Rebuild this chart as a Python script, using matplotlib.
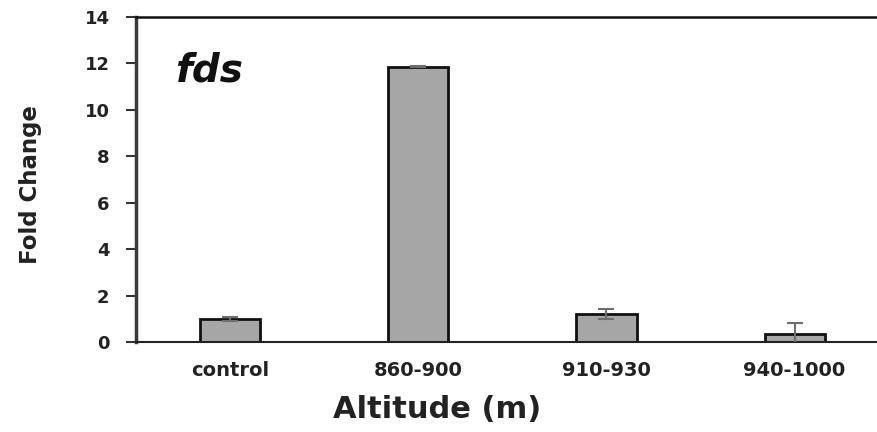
import matplotlib
matplotlib.use("Agg")
import matplotlib.pyplot as plt
import numpy as np

categories = ["control", "860-900", "910-930", "940-1000"]
fold_change = [1.0, 11.85, 1.2, 0.33]
errors = [0.08, 0.03, 0.2, 0.47]
y_ticks = [0, 2, 4, 6, 8, 10, 12, 14]

plt.rcParams['font.family'] = ['DejaVu Sans']

fig = plt.figure(figsize=(8.78, 4.32), dpi=100)
ax_left, ax_right = 136, 888.7
ax = fig.add_axes([ax_left/878, 1-342/432, (ax_right-ax_left)/878, (342-16.6)/432])

x = np.arange(len(categories))
ax.bar(x, fold_change, width=0.32, color='#a6a6a6', edgecolor='#111111', linewidth=2.0, zorder=2)
ax.errorbar(x, fold_change, yerr=errors, fmt='none', ecolor='#6e6e6e', elinewidth=1.5,
            capsize=6, capthick=1.5, zorder=3)

ax.set_xlim(-0.5, 3.5)
ax.set_ylim(0, 14)
ax.set_yticks(y_ticks)
ax.set_yticklabels([str(t) for t in y_ticks], fontsize=13, fontweight='bold', color='#222222')
ax.set_xticks(x)
ax.set_xticklabels(categories, fontsize=14, fontweight='bold', color='#222222')
ax.tick_params(axis='x', length=0, pad=14)
ax.tick_params(axis='y', length=7, width=1.5, color='#333333', pad=12, direction='out')

ax.spines['left'].set_linewidth(2.5)
ax.spines['left'].set_color('#3a3a3a')
ax.spines['bottom'].set_linewidth(1.5)
ax.spines['bottom'].set_color('#222222')
ax.spines['top'].set_linewidth(1.8)
ax.spines['top'].set_color('#111111')
ax.spines['right'].set_linewidth(1.8)
ax.spines['right'].set_color('#111111')

ax.set_xlabel("Altitude (m)", fontsize=22, fontweight='bold', color='#222222')
ax.xaxis.set_label_coords((437-ax_left)/(ax_right-ax_left), -(410-342)/(342-16.6), transform=ax.transAxes)
ax.xaxis.label.set_va('center')
ax.set_ylabel("Fold Change", fontsize=16.5, fontweight='bold', color='#222222')
ax.yaxis.set_label_coords(-(ax_left-30)/(ax_right-ax_left), (342-185)/(342-16.6), transform=ax.transAxes)
ax.yaxis.label.set_va('center')

fig.text(209/878, 1-82/432, "fds", fontsize=28, fontweight='bold', fontstyle='oblique',
         ha='center', va='baseline', color='#111111')

fig.savefig("out.png", dpi=100)
